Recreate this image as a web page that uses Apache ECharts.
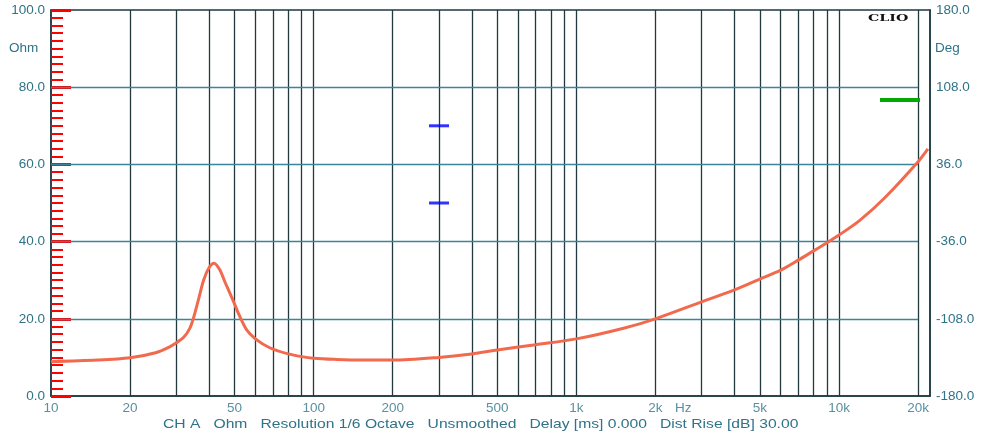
<!DOCTYPE html>
<html>
<head>
<meta charset="utf-8">
<script src="https://cdn.jsdelivr.net/npm/echarts@6/dist/echarts.min.js"></script>
<style>
html,body{margin:0;padding:0;background:#fff;}
#c{width:983px;height:437px;}
</style>
</head>
<body>
<div id="c"></div>
<script>
// Impedance curve (Hz, Ohm)
const freqs = [10, 15, 20, 25, 28.4, 30, 32, 33.8, 34.8, 36.4, 38.1, 40, 41.8, 44, 45.9, 48, 50, 52, 55.5, 60, 68, 80, 90, 100, 120, 150, 200, 300, 400, 500, 700, 1000, 1500, 2000, 3000, 4000, 5000, 6000, 7000, 8000, 9000, 10000, 12000, 15000, 20000, 21800];
const ohms  = [8.9, 9.3, 9.9, 11.2, 12.8, 13.8, 15.2, 17.6, 20.0, 24.9, 30.0, 33.3, 34.4, 32.6, 29.6, 26.6, 23.8, 21.0, 17.2, 14.8, 12.5, 10.9, 10.2, 9.8, 9.5, 9.3, 9.3, 10.0, 10.9, 11.9, 13.3, 14.8, 17.5, 20.0, 24.4, 27.5, 30.3, 32.6, 35.2, 37.6, 39.7, 41.7, 45.5, 51.5, 60.7, 64.0];

const gridFreqs = [20,30,40,50,60,70,80,90,100,200,300,400,500,600,700,800,900,1000,2000,3000,4000,5000,6000,7000,8000,9000,10000,20000];
const ohmGrid = [20, 40, 60, 80];
const xTickFreqs  = [10, 20, 50, 100, 200, 500, 1000, 2000, 2550, 5000, 10000, 20000];
const xTickLabels = ['10','20','50','100','200','500','1k','2k','Hz','5k','10k','20k'];
const footerText = 'CH A   Ohm   Resolution 1/6 Octave   Unsmoothed   Delay [ms] 0.000   Dist Rise [dB] 30.00';
const X_MIN = 10, X_MAX = 22200;

const ohmMinorTicks = [];
for (let v = 0; v <= 100; v += 2) ohmMinorTicks.push(v);

const FONT = 'Liberation Sans, Arial, sans-serif';
const labelColor = '#2f7388';
const axisColor = '#1d3a42';
const vGridColor = '#22393f';
const hGridColor = '#3a8598';
const curveColor = '#f26a4e';

const chart = echarts.init(document.getElementById('c'), null, {renderer: 'canvas'});

// DIAGNOSTIC: red axis ticks (long) on left axis
chart.setOption({
  animation: false,
  backgroundColor: '#ffffff',
  grid: {left: 51, right: 53, top: 10, bottom: 41, show: true, borderColor: axisColor, borderWidth: 1.5},
  xAxis: {
    type: 'log', logBase: 10, min: X_MIN, max: X_MAX,
    axisLine: {show: true, onZero: false, lineStyle: {color: axisColor, width: 1.5}},
    axisTick: {show: false}, axisLabel: {show: false}, splitLine: {show: false}, minorTick: {show: false}
  },
  yAxis: [
    {type: 'value', min: 0, max: 100, interval: 20, position: 'left',
     axisLine: {show: true, lineStyle: {color: axisColor, width: 1.5}},
     axisTick: {show: true, inside: true, length: 20, lineStyle: {color: '#ff0000', width: 3}},
     minorTick: {show: true, splitNumber: 10, length: 12, lineStyle: {color: '#ff0000', width: 2}},
     splitLine: {show: false},
     axisLabel: {color: labelColor, fontFamily: FONT, fontSize: 13.5, margin: 6, formatter: v => v.toFixed(1)}},
    {type: 'value', min: -180, max: 180, interval: 72, position: 'right',
     axisLine: {show: true, lineStyle: {color: axisColor, width: 1.5}},
     axisTick: {show: false}, splitLine: {show: false},
     axisLabel: {color: labelColor, fontFamily: FONT, fontSize: 13.5, margin: 6, formatter: v => v.toFixed(1)}}
  ],
  graphic: [
    {type: 'text', left: 9, top: 41, style: {text: 'Ohm', fill: labelColor, font: '13.5px ' + FONT}},
    {type: 'text', left: 935, top: 41, style: {text: 'Deg', fill: labelColor, font: '13.5px ' + FONT}},
    {type: 'text', x: 868, y: 13, scaleX: 1.42, style: {text: 'CLIO', fill: '#111', font: 'bold 10px "DejaVu Serif", "Liberation Serif", serif'}},
    {type: 'text', x: 163, y: 417, scaleX: 1.16, style: {text: footerText, fill: labelColor, font: '13.5px ' + FONT}},
    {type: 'line', shape: {x1: 880, y1: 100, x2: 920, y2: 100}, style: {stroke: '#00aa00', lineWidth: 4}, z: 100}
  ],
  series: [
    {
      name: 'vgrid', type: 'line', data: [], z: 1, silent: true,
      markLine: {
        silent: true, symbol: ['none', 'none'], animation: false,
        label: {show: false},
        lineStyle: {color: vGridColor, width: 1.3, type: 'solid'},
        data: gridFreqs.map(f => ({xAxis: f}))
      }
    },
    {
      name: 'xlabels', type: 'scatter', z: 2, silent: true, clip: false,
      symbolSize: 0,
      data: xTickFreqs.map(f => [f, 0]),
      label: {
        show: true, position: 'bottom', distance: 5,
        color: labelColor, fontFamily: FONT, fontSize: 13.5,
        formatter: p => xTickLabels[p.dataIndex]
      },
      markLine: {
        silent: true, symbol: ['none', 'none'], animation: false,
        label: {show: false},
        lineStyle: {color: hGridColor, width: 1.3, type: 'solid'},
        data: ohmGrid.map(v => [{coord: [10, v]}, {coord: [20000, v]}])
      }
    },
    {
      name: 'bluetest', type: 'scatter', z: 50, silent: true, clip: false,
      symbol: 'rect', symbolSize: [20, 3], itemStyle: {color: '#0000ff'},
      data: [[300, 50], [300, 70]]
    },
    {
      name: 'Impedance', type: 'line', z: 5, yAxisIndex: 0,
      data: freqs.map((f, i) => [f, ohms[i]]),
      smooth: 0.3, showSymbol: false, clip: true,
      lineStyle: {color: curveColor, width: 3}
    }
  ]
});
</script>
</body>
</html>
